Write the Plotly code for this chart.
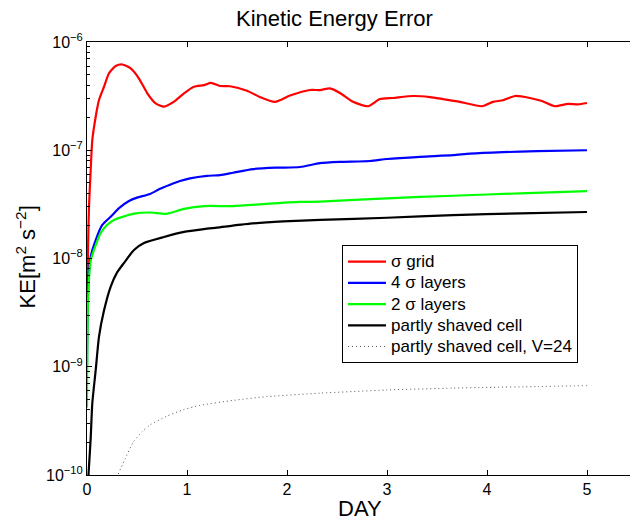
import plotly.graph_objects as go

# ---- data ----
sigma_x = [0, 0.01, 0.02, 0.037, 0.053, 0.087, 0.12, 0.17, 0.22, 0.287, 0.353, 0.437, 0.52, 0.603,
           0.687, 0.77, 0.87, 0.97, 1.07, 1.17, 1.24, 1.33, 1.43, 1.6, 1.73, 1.88, 2.03, 2.23, 2.33,
           2.43, 2.53, 2.66, 2.81, 2.93, 3.06, 3.26, 3.43, 3.56, 3.73, 3.95, 4.06, 4.16, 4.28, 4.43,
           4.55, 4.68, 4.81, 4.91, 5.0]
sigma_y = [2.6e-9, 1.2e-8, 3.0e-8, 6.6e-8, 1.24e-7, 2.04e-7, 2.91e-7, 3.86e-7, 5.14e-7, 6.0e-7, 6.2e-7,
           5.7e-7, 4.6e-7, 3.36e-7, 2.71e-7, 2.53e-7, 2.81e-7, 3.36e-7, 3.86e-7, 4.0e-7, 4.2e-7,
           3.92e-7, 3.9e-7, 3.55e-7, 3.1e-7, 2.8e-7, 3.2e-7, 3.6e-7, 3.6e-7, 3.73e-7, 3.38e-7, 2.8e-7,
           2.55e-7, 2.97e-7, 3.04e-7, 3.17e-7, 3.1e-7, 2.97e-7, 2.8e-7, 2.55e-7, 2.8e-7, 2.9e-7,
           3.17e-7, 3.04e-7, 2.85e-7, 2.55e-7, 2.68e-7, 2.65e-7, 2.73e-7]

four_x = [0, 0.01, 0.037, 0.087, 0.153, 0.237, 0.32, 0.42, 0.5, 0.63, 0.73, 0.83, 0.93, 1.03, 1.2,
          1.33, 1.46, 1.66, 1.9, 2.13, 2.33, 2.53, 2.83, 3.0, 3.33, 3.66, 3.83, 4.16, 4.5, 5.0]
four_y = [1e-9, 5e-9, 1.04e-8, 1.48e-8, 2.04e-8, 2.43e-8, 2.92e-8, 3.4e-8, 3.65e-8, 3.95e-8, 4.4e-8,
          4.8e-8, 5.2e-8, 5.5e-8, 5.8e-8, 5.9e-8, 6.2e-8, 6.7e-8, 6.9e-8, 7.0e-8, 7.6e-8, 7.8e-8,
          7.96e-8, 8.3e-8, 8.7e-8, 9.0e-8, 9.3e-8, 9.6e-8, 9.8e-8, 1.0e-7]

two_x = [0, 0.01, 0.037, 0.07, 0.137, 0.2, 0.27, 0.34, 0.47, 0.64, 0.79, 0.97, 1.17, 1.46, 1.8, 2.13,
         2.33, 3.0, 3.66, 4.33, 5.0]
two_y = [4.2e-10, 4e-9, 9.6e-9, 1.2e-8, 1.72e-8, 2.04e-8, 2.27e-8, 2.4e-8, 2.6e-8, 2.66e-8, 2.58e-8,
         2.87e-8, 3.05e-8, 3.05e-8, 3.2e-8, 3.33e-8, 3.35e-8, 3.6e-8, 3.8e-8, 4.0e-8, 4.2e-8]

psc_x = [0.008, 0.015, 0.02, 0.037, 0.053, 0.087, 0.12, 0.17, 0.237, 0.3, 0.37, 0.47, 0.57, 0.77, 0.97,
         1.17, 1.3, 1.63, 1.96, 2.33, 3.0, 3.66, 4.33, 5.0]
psc_y = [5e-11, 1.0e-10, 1.2e-10, 2.2e-10, 4.6e-10, 9.3e-10, 1.9e-9, 3.3e-9, 5.5e-9, 7.4e-9, 9.1e-9,
         1.2e-8, 1.39e-8, 1.58e-8, 1.76e-8, 1.87e-8, 1.93e-8, 2.1e-8, 2.2e-8, 2.27e-8, 2.38e-8,
         2.52e-8, 2.61e-8, 2.69e-8]

v24_x = [0.29, 0.31, 0.38, 0.46, 0.55, 0.63, 0.8, 0.96, 1.13, 1.47, 1.8, 2.33, 3.0, 3.66, 4.0, 4.5, 5.0]
v24_y = [8e-11, 1.0e-10, 1.4e-10, 2.0e-10, 2.5e-10, 2.9e-10, 3.5e-10, 4.0e-10, 4.4e-10, 4.9e-10,
         5.3e-10, 5.7e-10, 6.1e-10, 6.35e-10, 6.45e-10, 6.55e-10, 6.7e-10]

series = [
    ("σ grid", sigma_x, sigma_y, "#ff0000", "solid", 2.2),
    ("4 σ layers", four_x, four_y, "#0000ff", "solid", 2.2),
    ("2 σ layers", two_x, two_y, "#00ff00", "solid", 2.2),
    ("partly shaved cell", psc_x, psc_y, "#000000", "solid", 2.2),
    ("partly shaved cell, V=24", v24_x, v24_y, "#555555", "1px,3px", 1),
]

x_ticks = [0, 1, 2, 3, 4, 5]
y_ticks = [1e-10, 1e-9, 1e-8, 1e-7, 1e-6]
y_ticktext = ["10<sup>−10</sup>", "10<sup>−9</sup>", "10<sup>−8</sup>", "10<sup>−7</sup>", "10<sup>−6</sup>"]
FONT = "Liberation Sans, Arial, Helvetica, sans-serif"

fig = go.Figure()
for name, xs, ys, col, dash, w in series:
    fig.add_trace(go.Scatter(
        x=xs, y=ys, mode="lines",
        name='<span style="font-size:17px">' + name + "</span>",
        line=dict(color=col, width=w, dash=dash, shape="spline", smoothing=0.6)))

minor_vals = [m * 10.0 ** e for e in range(-10, -6) for m in range(2, 10)]

fig.update_layout(
    width=630, height=518,
    margin=dict(l=87, r=0, t=42, b=43),
    paper_bgcolor="white", plot_bgcolor="white",
    font=dict(family=FONT, color="black"),
    showlegend=True,
    legend=dict(x=0.4696, y=0.531, xanchor="left", yanchor="top",
                bgcolor="white", bordercolor="black", borderwidth=1,
                font=dict(size=14, family=FONT, color="black"),
                itemwidth=38, tracegroupgap=0),
    xaxis=dict(range=[0, 5.43], tickmode="array", tickvals=x_ticks,
               ticks="inside", ticklen=5, tickcolor="black",
               showline=True, linecolor="black", linewidth=1, mirror="ticks",
               showgrid=False, zeroline=False,
               tickfont=dict(size=16, family=FONT)),
    yaxis=dict(type="log", range=[-10, -6], tickmode="array", tickvals=y_ticks,
               ticktext=y_ticktext, ticks="inside", ticklen=5, tickcolor="black",
               showline=True, linecolor="black", linewidth=1, mirror=False,
               showgrid=False, zeroline=False,
               tickfont=dict(size=16, family=FONT),
               minor=dict(tickmode="array", tickvals=minor_vals, ticks="inside",
                          ticklen=3, tickcolor="black", showgrid=False)),
    annotations=[
        dict(text="Kinetic Energy Error", xref="paper", yref="paper", x=0.4567, y=1.0554,
             xanchor="center", yanchor="middle", showarrow=False,
             font=dict(size=22, family=FONT)),
        dict(text="DAY", xref="paper", yref="paper", x=0.503, y=-0.078,
             xanchor="center", yanchor="middle", showarrow=False,
             font=dict(size=22, family=FONT)),
        dict(text="KE[m<sup>2</sup> s<sup>−2</sup>]", xref="paper", yref="paper",
             x=-0.112, y=0.503, xanchor="center", yanchor="middle", textangle=-90,
             showarrow=False, font=dict(size=22, family=FONT)),
    ],
)

fig.write_html("out.html")
